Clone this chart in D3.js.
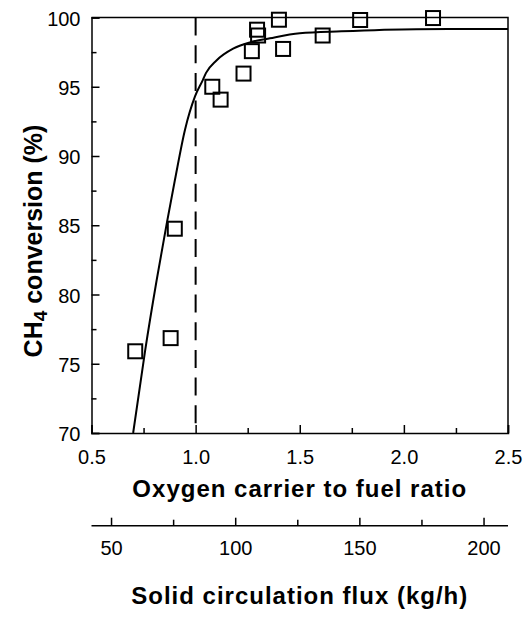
<!DOCTYPE html>
<html>
<head>
<meta charset="utf-8">
<script src="https://cdn.jsdelivr.net/npm/d3@7"></script>
<style>
  body { margin: 0; background: #fff; }
  text { font-family: "Liberation Sans", Arial, sans-serif; fill: #000; }
</style>
</head>
<body>
<div id="chart"></div>
<script>
// measured points
var ratio = [0.71, 0.88, 0.90, 1.08, 1.12, 1.23, 1.27, 1.295, 1.30, 1.40, 1.42, 1.61, 1.79, 2.14];
var conversion = [75.9, 76.85, 84.75, 95.0, 94.07, 95.95, 97.57, 99.12, 98.70, 99.84, 97.73, 98.70, 99.82, 99.96];

// fitted curve
var fitRatio = [0.70, 0.757, 0.813, 0.861, 0.901, 0.949, 0.997, 1.035, 1.05, 1.10, 1.18, 1.26, 1.357, 1.50, 1.70, 2.06, 2.50];
var fitConversion = [70.0, 75.9, 81.05, 85.1, 88.3, 91.9, 94.3, 95.5, 96.0, 96.9, 97.75, 98.2, 98.5, 98.86, 99.0, 99.15, 99.17];

var xMajor = [0.5, 1.0, 1.5, 2.0, 2.5];
var xMinor = [0.75, 1.25, 1.75, 2.25];
var yMajor = [70, 75, 80, 85, 90, 95, 100];
var yMinor = [72.5, 77.5, 82.5, 87.5, 92.5, 97.5];
var fluxMajor = [50, 100, 150, 200];
var fluxMinor = [75, 125, 175];
var FLUX_PER_RATIO = 83.86; // kg/h per unit ratio
var stoichRatio = 1.0;

var W = 526, H = 622;
var LEFT = 91.5, RIGHT = 508, TOP = 17.5, BOTTOM = 433;

var svg = d3.select("#chart").append("svg")
  .attr("width", W)
  .attr("height", H);

var x = d3.scaleLinear().domain([0.5, 2.5]).range([LEFT, RIGHT]);
var y = d3.scaleLinear().domain([70, 100]).range([BOTTOM, TOP]);
var flux = d3.scaleLinear().domain([0.5 * FLUX_PER_RATIO, 2.5 * FLUX_PER_RATIO]).range([LEFT, RIGHT]);

// bottom axis: major + minor inward ticks
svg.append("g")
  .attr("transform", "translate(0," + BOTTOM + ")")
  .call(d3.axisBottom(x).tickValues(xMajor).tickSize(-8).tickFormat(d3.format(".1f")))
  .call(g => g.selectAll("text").attr("y", 0).attr("dy", 31).style("font-size", "20px"));
svg.append("g")
  .attr("transform", "translate(0," + BOTTOM + ")")
  .call(d3.axisBottom(x).tickValues(xMinor).tickSize(-5).tickFormat(""))
  .call(g => g.select(".domain").remove());

// left axis: major + minor inward ticks
svg.append("g")
  .attr("transform", "translate(" + LEFT + ",0)")
  .call(d3.axisLeft(y).tickValues(yMajor).tickSize(-8).tickPadding(11))
  .call(g => g.selectAll("text").attr("x", -11).attr("dy", "0.38em").style("font-size", "20px"));
svg.append("g")
  .attr("transform", "translate(" + LEFT + ",0)")
  .call(d3.axisLeft(y).tickValues(yMinor).tickSize(-5).tickFormat(""))
  .call(g => g.select(".domain").remove());

svg.selectAll(".domain, .tick line").attr("stroke", "#000").attr("stroke-width", 1.5);

// top and right frame
svg.append("path")
  .attr("d", "M" + LEFT + "," + TOP + "H" + RIGHT + "V" + BOTTOM)
  .attr("fill", "none")
  .attr("stroke", "#000")
  .attr("stroke-width", 1.5);

// stoichiometric line
svg.append("line")
  .attr("x1", x(stoichRatio)).attr("x2", x(stoichRatio))
  .attr("y1", TOP).attr("y2", BOTTOM)
  .attr("stroke", "#000")
  .attr("stroke-width", 2)
  .attr("stroke-dasharray", "18,9.7");

// fitted curve
var line = d3.line()
  .x(d => x(d[0]))
  .y(d => y(d[1]))
  .curve(d3.curveMonotoneX);
svg.append("path")
  .datum(d3.zip(fitRatio, fitConversion))
  .attr("d", line)
  .attr("fill", "none")
  .attr("stroke", "#000")
  .attr("stroke-width", 2);

// data squares
var SQ = 14;
svg.append("g").selectAll("rect")
  .data(d3.zip(ratio, conversion)).enter()
  .append("rect")
  .attr("x", d => x(d[0]) - SQ / 2)
  .attr("y", d => y(d[1]) - SQ / 2)
  .attr("width", SQ)
  .attr("height", SQ)
  .attr("fill", "none")
  .attr("stroke", "#000")
  .attr("stroke-width", 2);

// secondary flux axis
var FLUX_Y = 525.7;
var fluxAxis = svg.append("g").attr("transform", "translate(0," + FLUX_Y + ")");
fluxAxis.append("line")
  .attr("x1", LEFT).attr("x2", RIGHT)
  .attr("stroke", "#000").attr("stroke-width", 1.5);
fluxAxis.selectAll(".major")
  .data(fluxMajor).enter()
  .append("line")
  .attr("x1", d => flux(d)).attr("x2", d => flux(d))
  .attr("y1", 0).attr("y2", -8)
  .attr("stroke", "#000").attr("stroke-width", 1.5);
fluxAxis.selectAll(".minor")
  .data(fluxMinor).enter()
  .append("line")
  .attr("x1", d => flux(d)).attr("x2", d => flux(d))
  .attr("y1", 0).attr("y2", -6)
  .attr("stroke", "#000").attr("stroke-width", 1.5);
fluxAxis.selectAll("text")
  .data(fluxMajor).enter()
  .append("text")
  .attr("x", d => flux(d))
  .attr("y", 29.5)
  .style("text-anchor", "middle")
  .style("font-size", "20px")
  .text(d => d);

// titles
svg.append("text")
  .attr("x", (LEFT + RIGHT) / 2)
  .attr("y", 496.7)
  .style("text-anchor", "middle")
  .style("font-size", "24px")
  .style("font-weight", "bold")
  .style("letter-spacing", "1px")
  .text("Oxygen carrier to fuel ratio");

svg.append("text")
  .attr("x", (LEFT + RIGHT) / 2)
  .attr("y", 604)
  .style("text-anchor", "middle")
  .style("font-size", "24px")
  .style("font-weight", "bold")
  .style("letter-spacing", "1px")
  .text("Solid circulation flux (kg/h)");

var yTitle = svg.append("text")
  .attr("transform", "translate(42,241) rotate(-90)")
  .style("text-anchor", "middle")
  .style("font-size", "25px")
  .style("font-weight", "bold");
yTitle.append("tspan").text("CH");
yTitle.append("tspan").attr("dy", 5).style("font-size", "19px").text("4");
yTitle.append("tspan").attr("dy", -5).text(" conversion (%)");
</script>
</body>
</html>
